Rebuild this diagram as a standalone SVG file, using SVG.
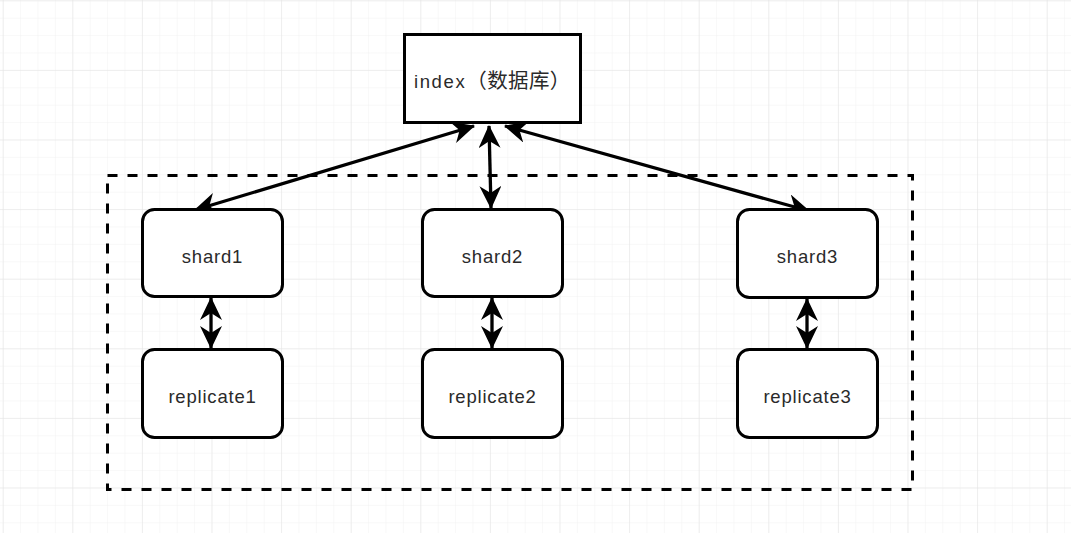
<svg xmlns="http://www.w3.org/2000/svg" width="1071" height="533" viewBox="0 0 1071 533">
  <defs>
    <pattern id="minor" width="17.4" height="17.4" patternUnits="userSpaceOnUse" x="2.7" y="0.3">
      <path d="M0 0 H17.4 M0 0 V17.4" fill="none" stroke="#f1f1f1" stroke-width="1"/>
    </pattern>
    <pattern id="major" width="69.6" height="69.6" patternUnits="userSpaceOnUse" x="2.7" y="0.3">
      <path d="M0 0 H69.6 M0 0 V69.6" fill="none" stroke="#e4e4e4" stroke-width="1"/>
    </pattern>
    <marker id="arr" viewBox="0 0 23 22" refX="22" refY="11" markerWidth="23" markerHeight="22" markerUnits="userSpaceOnUse" orient="auto-start-reverse">
      <path d="M0 0 L23 11 L0 22 L7 11 Z" fill="#000"/>
    </marker>
    <style>
      .node { fill: #fff; stroke: #000; stroke-width: 3; }
      .lbl { font-family: "Liberation Sans", Arial, "Noto Sans CJK SC", sans-serif; font-size: 18.5px; fill: #2a2a2a; letter-spacing: 0.8px; }
      .cjk { font-size: 20.5px; letter-spacing: 0.4px; }
      .conn { fill: none; stroke: #000; stroke-width: 3.3; marker-start: url(#arr); marker-end: url(#arr); }
    </style>
  </defs>
  <rect width="1071" height="533" fill="#fff"/>
  <rect width="1071" height="533" fill="url(#minor)"/>
  <rect width="1071" height="533" fill="url(#major)"/>

  <g id="group-box">
    <rect x="107.5" y="175.5" width="805" height="314" fill="none" stroke="#000" stroke-width="3" stroke-dasharray="10 10"/>
  </g>

  <g id="connectors">
    <line class="conn" x1="474" y1="126" x2="195" y2="210"/>
    <line class="conn" x1="489" y1="126" x2="491" y2="208"/>
    <line class="conn" x1="505" y1="126" x2="809" y2="211"/>
    <line class="conn" x1="211" y1="298" x2="211" y2="348"/>
    <line class="conn" x1="492" y1="298" x2="492" y2="348"/>
    <line class="conn" x1="807" y1="299" x2="807" y2="348"/>
  </g>

  <g id="index">
    <rect class="node" x="404.5" y="34.5" width="176" height="88"/>
    <text class="lbl" x="414" y="88" style="letter-spacing:1.6px">index<tspan class="cjk">（数据库）</tspan></text>
  </g>

  <g id="shard1">
    <rect class="node" x="142.5" y="209.5" width="140" height="87" rx="12"/>
    <text class="lbl" x="212.5" y="263" text-anchor="middle">shard1</text>
  </g>
  <g id="shard2">
    <rect class="node" x="422.5" y="209.5" width="140" height="87" rx="12"/>
    <text class="lbl" x="492.5" y="263" text-anchor="middle">shard2</text>
  </g>
  <g id="shard3">
    <rect class="node" x="737.5" y="209.5" width="140" height="88" rx="12"/>
    <text class="lbl" x="807.5" y="263" text-anchor="middle">shard3</text>
  </g>

  <g id="replicate1">
    <rect class="node" x="142.5" y="349.5" width="140" height="88" rx="12"/>
    <text class="lbl" x="212.5" y="403" text-anchor="middle">replicate1</text>
  </g>
  <g id="replicate2">
    <rect class="node" x="422.5" y="349.5" width="140" height="88" rx="12"/>
    <text class="lbl" x="492.5" y="403" text-anchor="middle">replicate2</text>
  </g>
  <g id="replicate3">
    <rect class="node" x="737.5" y="349.5" width="140" height="88" rx="12"/>
    <text class="lbl" x="807.5" y="403" text-anchor="middle">replicate3</text>
  </g>
</svg>
